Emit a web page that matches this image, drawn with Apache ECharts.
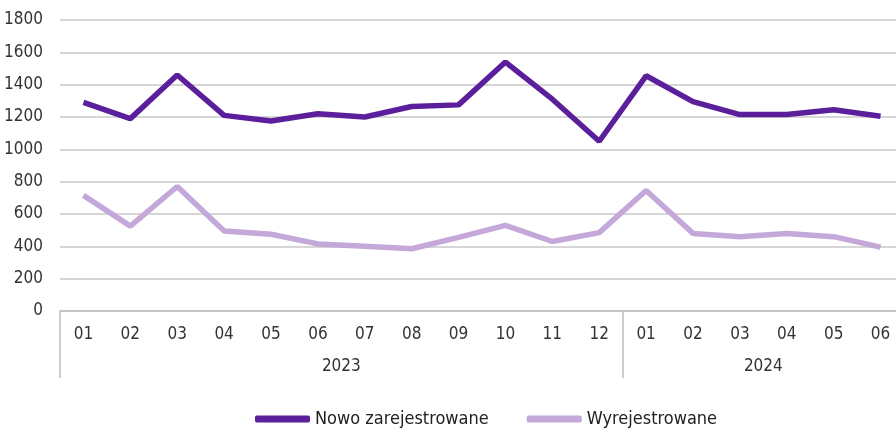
<!DOCTYPE html>
<html>
<head>
<meta charset="utf-8">
<script src="https://cdn.jsdelivr.net/npm/echarts@6/dist/echarts.min.js"></script>
<style>
  html, body { margin: 0; padding: 0; background: #fff; }
  #chart { width: 896px; height: 435px; }
</style>
</head>
<body>
<div id="chart"></div>
<script>
const months = ['01', '02', '03', '04', '05', '06', '07', '08', '09', '10', '11', '12',
                '01', '02', '03', '04', '05', '06'];
const years = ['2023', '2024'];
const yearCentres = [6, 15];
const yearBounds = [0, 12, 18];

const nowoZarejestrowane = [1290, 1190, 1460, 1210, 1175, 1220, 1200, 1265, 1275, 1540, 1310, 1050,
                            1455, 1295, 1215, 1215, 1245, 1205];
const wyrejestrowane = [715, 525, 770, 495, 475, 415, 400, 385, 455, 530, 430, 485,
                        745, 480, 460, 480, 460, 395];

const font = '"Liberation Sans Narrow", "DejaVu Sans Condensed", sans-serif';
const myChart = echarts.init(document.getElementById('chart'));

const option = {
  animation: false,
  grid: { left: 60, top: 20, width: 844, bottom: 124, outerBoundsMode: 'none' },
  legend: {
    bottom: 2,
    left: 250,
    itemWidth: 55,
    itemHeight: 7,
    itemGap: 38,
    icon: 'roundRect',
    textStyle: { fontFamily: font, fontSize: 18, color: '#222' },
    data: ['Nowo zarejestrowane', 'Wyrejestrowane']
  },
  xAxis: [
    {
      type: 'category',
      data: months,
      boundaryGap: true,
      axisLine: { lineStyle: { color: '#bfbfbf', width: 1.5 } },
      axisTick: { show: false },
      axisLabel: { fontFamily: font, fontSize: 17, color: '#333', margin: 15 }
    },
    {
      type: 'value',
      min: 0,
      max: 18,
      position: 'bottom',
      splitLine: { show: false },
      axisLine: { show: false },
      axisTick: {
        show: true,
        customValues: yearBounds,
        length: 67,
        lineStyle: { color: '#bfbfbf', width: 1.5 }
      },
      axisLabel: {
        customValues: yearCentres,
        formatter: v => years[yearCentres.indexOf(v)],
        fontFamily: font, fontSize: 17, color: '#333', margin: 47
      }
    }
  ],
  yAxis: {
    type: 'value',
    min: 0,
    max: 1800,
    interval: 200,
    axisLine: { show: false },
    axisTick: { show: false },
    axisLabel: { fontFamily: font, fontSize: 17, color: '#333', margin: 17, formatter: v => String(v) },
    splitLine: { lineStyle: { color: '#c8c8c8', width: 1.5 } }
  },
  series: [
    {
      name: 'Nowo zarejestrowane',
      type: 'line',
      data: nowoZarejestrowane,
      symbol: 'none',
      color: '#5b1f9b',
      lineStyle: { width: 5.5 }
    },
    {
      name: 'Wyrejestrowane',
      type: 'line',
      data: wyrejestrowane,
      symbol: 'none',
      color: '#c3a8d9',
      lineStyle: { width: 5.5 }
    }
  ]
};

myChart.setOption(option);
</script>
</body>
</html>
